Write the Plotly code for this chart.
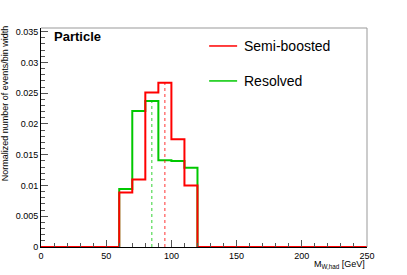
import plotly.graph_objects as go

# Bin edges (GeV) and normalized contents per bin (10 GeV bins, 0-250)
bin_edges = list(range(0, 260, 10))
semi_boosted = [0, 0, 0, 0, 0, 0, 0.00886, 0.01097, 0.0251, 0.0267, 0.01753, 0.0100,
                0, 0, 0, 0, 0, 0, 0, 0, 0, 0, 0, 0, 0]
resolved = [0, 0, 0, 0, 0, 0, 0.00942, 0.0221, 0.02375, 0.01412, 0.0140, 0.01287,
            0, 0, 0, 0, 0, 0, 0, 0, 0, 0, 0, 0, 0]
# Marker positions (dashed lines)
resolved_peak = 85
semi_boosted_peak = 95

y_tickvals = [0, 0.005, 0.01, 0.015, 0.02, 0.025, 0.03, 0.035]
y_ticktext = ["0", "0.005", "0.01", "0.015", "0.02", "0.025", "0.03", "0.035"]
x_tickvals = [0, 50, 100, 150, 200, 250]

RED = "#ff0000"
GREEN = "#00c800"


def value_at(x, edges, vals):
    for i in range(len(vals)):
        if edges[i] <= x < edges[i + 1]:
            return vals[i]
    return 0


fig = go.Figure()
fig.add_trace(go.Scatter(x=bin_edges, y=resolved + [resolved[-1]], mode="lines",
                         line=dict(color=GREEN, width=2, shape="hv"), showlegend=False))
fig.add_trace(go.Scatter(x=bin_edges, y=semi_boosted + [semi_boosted[-1]], mode="lines",
                         line=dict(color=RED, width=2, shape="hv"),
                         showlegend=False))
fig.add_trace(go.Scatter(x=[resolved_peak, resolved_peak],
                         y=[0, value_at(resolved_peak, bin_edges, resolved)], mode="lines",
                         line=dict(color=GREEN, width=1, dash="3px,3px"), opacity=0.8,
                         showlegend=False))
fig.add_trace(go.Scatter(x=[semi_boosted_peak, semi_boosted_peak],
                         y=[0, value_at(semi_boosted_peak, bin_edges, semi_boosted)],
                         mode="lines",
                         line=dict(color=RED, width=1, dash="3px,3px"), opacity=0.8,
                         showlegend=False))

L, R, T, B = 40.7, 40, 28, 27.7
W, H = 407, 275

fig.update_layout(
    width=W, height=H,
    margin=dict(l=L, r=R, t=T, b=B, pad=0),
    paper_bgcolor="white", plot_bgcolor="white",
    font=dict(family="Liberation Sans, Arial, sans-serif", size=9, color="black"),
    xaxis=dict(range=[0, 250], tickvals=x_tickvals, ticks="inside", ticklen=7,
               tickcolor="#555555", showgrid=False, zeroline=False,
               showline=True, linecolor="black", linewidth=1,
               minor=dict(ticks="inside", dtick=10, ticklen=4, tickcolor="#555555"),
               tickfont=dict(size=9)),
    yaxis=dict(range=[0, 0.0356], tickvals=y_tickvals, ticktext=y_ticktext,
               ticks="inside", ticklen=7, tickcolor="#555555", showgrid=False,
               zeroline=False, showline=True, linecolor="black", linewidth=1,
               minor=dict(ticks="inside", dtick=0.001, ticklen=4, tickcolor="#555555"),
               tickfont=dict(size=9)),
    shapes=[
        dict(type="line", xref="paper", yref="paper", x0=0, x1=1, y0=1, y1=1,
             line=dict(color="#999999", width=1)),
        dict(type="line", xref="paper", yref="paper", x0=1, x1=1, y0=0, y1=1,
             line=dict(color="#999999", width=1)),
        # legend glyphs
        dict(type="line", xref="paper", yref="paper",
             x0=(209 - L) / (W - L - R), x1=(237 - L) / (W - L - R),
             y0=(H - B - 46) / (H - T - B), y1=(H - B - 46) / (H - T - B),
             line=dict(color=RED, width=1.5)),
        dict(type="line", xref="paper", yref="paper",
             x0=(209 - L) / (W - L - R), x1=(237 - L) / (W - L - R),
             y0=(H - B - 81) / (H - T - B), y1=(H - B - 81) / (H - T - B),
             line=dict(color=GREEN, width=1.5)),
    ],
    annotations=[
        dict(text="Semi-boosted", xref="paper", yref="paper",
             x=(242 - L) / (W - L - R), y=(H - B - 46) / (H - T - B),
             xanchor="left", yanchor="middle", showarrow=False,
             font=dict(size=14)),
        dict(text="Resolved", xref="paper", yref="paper",
             x=(242 - L) / (W - L - R), y=(H - B - 81) / (H - T - B),
             xanchor="left", yanchor="middle", showarrow=False,
             font=dict(size=14)),
        dict(text="<b>Particle</b>", xref="paper", yref="paper",
             x=(52 - L) / (W - L - R), y=(H - B - 37) / (H - T - B),
             xanchor="left", yanchor="middle", showarrow=False,
             font=dict(size=13)),
        dict(text="Normalized number of events/bin width", xref="paper", yref="paper",
             x=(5 - L) / (W - L - R), y=(H - B - 103) / (H - T - B),
             xanchor="center", yanchor="middle", textangle=-90, showarrow=False,
             font=dict(size=9)),
        dict(text="M<sub>W,had</sub> [GeV]", xref="paper", yref="paper",
             x=1.0, y=-(265 - (H - B)) / (H - T - B),
             xanchor="right", yanchor="middle", showarrow=False,
             font=dict(size=9)),
    ],
)

fig.write_html("out.html", config={"displayModeBar": False},
               post_script="document.body.style.margin='0px';document.body.style.padding='0px';")
